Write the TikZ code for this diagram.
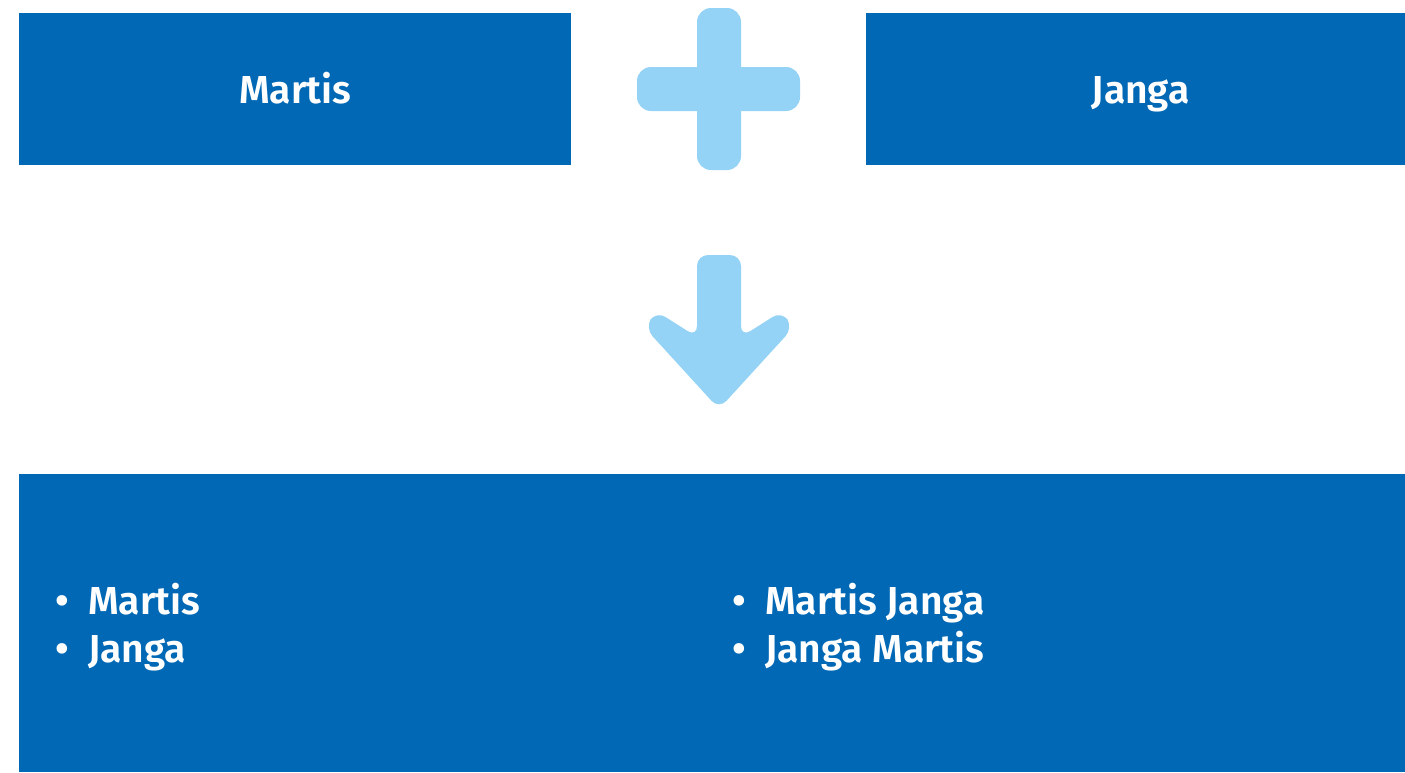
\documentclass[tikz,border=0pt]{standalone}
\usepackage{fontspec}
\setmainfont{Fira Sans}[BoldFont={Fira Sans SemiBold}]
\usepackage{tikz}
\usetikzlibrary{positioning}
\definecolor{deepblue}{HTML}{0068B4}
\definecolor{skyblue}{HTML}{94D3F5}
\tikzset{
    every picture/.style={line join=round},
    bluebox/.style={fill=deepblue,draw=none,inner sep=0pt,
      text=white,font=\fontsize{39}{47}\selectfont\bfseries,
      text height=28pt,text depth=0pt,align=center},
    listline/.style={text=white,inner sep=0pt,anchor=base west,
      font=\fontsize{39}{47}\selectfont\bfseries},
    listdot/.style={text=white,inner sep=0pt,anchor=base,
      font=\fontsize{40}{48}\selectfont\bfseries},
    lightshape/.style={fill=skyblue,draw=none,rounded corners=14pt}
}
\begin{document}
\begin{tikzpicture}[x=1pt,y=-1pt]
  \useasboundingbox (0,0) rectangle (1405,772);
  % top boxes
  \node[bluebox,minimum width=552pt,minimum height=152pt,anchor=north west]
    (martis) at (19,13) {Martis};
  \node[bluebox,minimum width=539pt,minimum height=152pt,anchor=north west]
    (janga) at (866,13) {\hspace{10pt}Janga};
  % plus sign
  \fill[lightshape] (697,8) rectangle (741,170);
  \fill[lightshape] (637,67) rectangle (800,111);
  % down arrow
  \fill[skyblue,rounded corners=11pt] (719,255) -- (741,255) -- (741,337)
    -- (782,311) -- (793,328) -- (719,409) -- (645,328) -- (656,311)
    -- (697,337) -- (697,255) -- cycle;
  % result box
  \node[bluebox,minimum width=1386pt,minimum height=298pt,anchor=north west]
    (result) at (19,474) {};
  \foreach \w [count=\i from 0] in {Martis,Janga}{
    \node[listdot] (ldot\i) at (62,614+48*\i) {\textbullet};
    \node[listline] (lword\i) at (88,614+48*\i) {\w};}
  \foreach \w [count=\i from 0] in {Martis Janga,Janga Martis}{
    \node[listdot] (rdot\i) at (739,614+48*\i) {\textbullet};
    \node[listline] (rword\i) at (765,614+48*\i) {\w};}
\end{tikzpicture}
\end{document}
